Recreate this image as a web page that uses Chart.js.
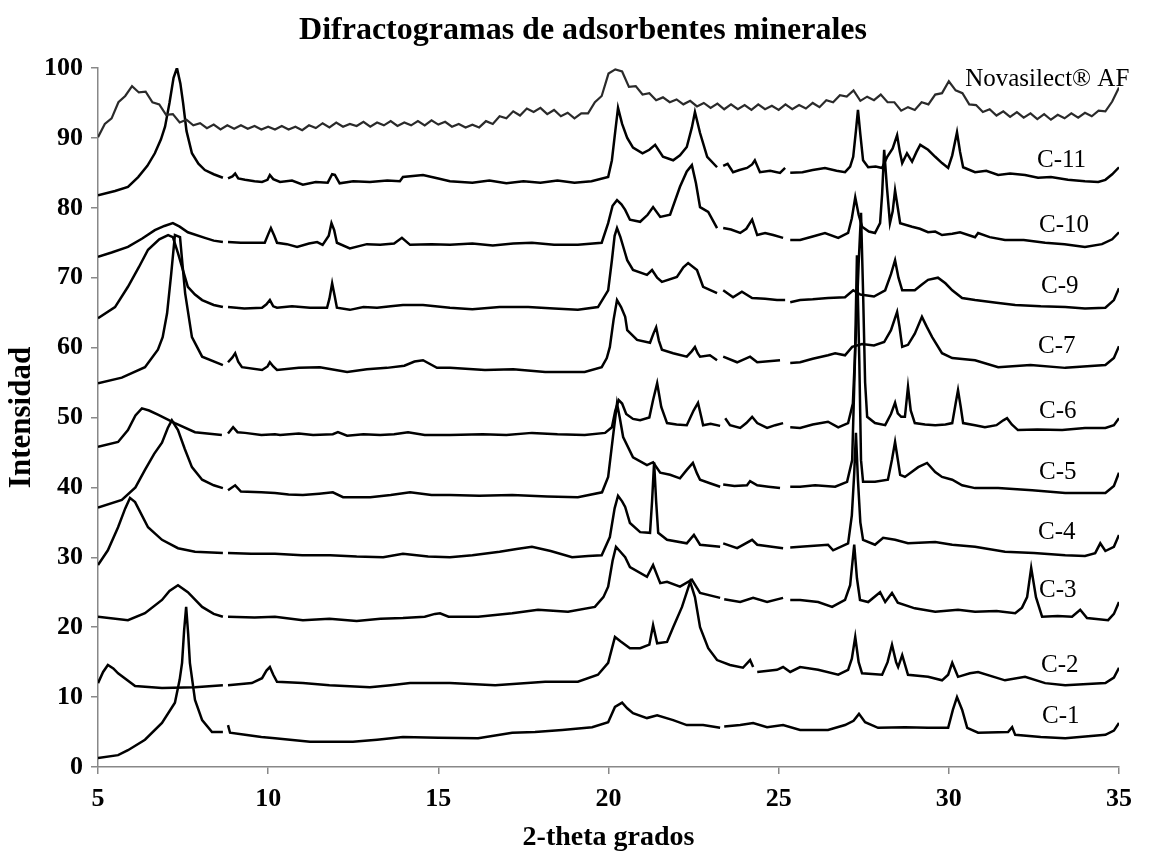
<!DOCTYPE html>
<html>
<head>
<meta charset="utf-8">
<script src="https://cdn.jsdelivr.net/npm/chart.js@4.4.0/dist/chart.umd.min.js"></script>
<style>
  html, body { margin: 0; padding: 0; background: #fff; }
  #wrap { width: 1164px; height: 852px; }
</style>
</head>
<body>
<div id="wrap"><canvas id="xrd" width="1164" height="852"></canvas></div>
<script>
// Novasilect AF: one reading every 0.2 degrees from 5 to 35
const novaStart = 5;
const novaStep = 0.2;
const novaY = [
  90.1, 92.0, 92.8, 95.1, 96.0, 97.4, 96.5, 96.6, 95.1, 94.8,
  93.3, 93.4, 92.2, 92.6, 91.8, 92.1, 91.4, 91.9, 91.2, 91.8,
  91.3, 91.8, 91.3, 91.7, 91.2, 91.6, 91.2, 91.7, 91.2, 91.6,
  91.1, 91.8, 91.4, 92.1, 91.5, 92.2, 91.6, 92.0, 91.7, 92.3,
  91.6, 92.2, 91.8, 92.4, 91.7, 92.2, 91.8, 92.4, 91.8, 92.5,
  91.9, 92.3, 91.6, 92.0, 91.5, 91.9, 91.5, 92.4, 92.0, 93.1,
  92.8, 93.8, 93.2, 94.2, 93.7, 94.3, 93.4, 94.0, 93.1, 93.6,
  92.8, 93.5, 93.5, 95.1, 96.0, 99.2, 99.8, 99.5, 97.3, 97.4,
  96.2, 96.4, 95.4, 95.8, 95.1, 95.5, 94.8, 95.3, 94.5, 95.0,
  94.3, 94.9, 94.1, 94.8, 94.1, 94.7, 94.0, 94.8, 94.1, 94.6,
  94.0, 94.8, 94.1, 94.7, 94.2, 95.0, 94.4, 95.4, 95.1, 96.1,
  95.9, 96.8, 95.3, 95.9, 95.4, 96.2, 95.1, 95.1, 93.9, 94.4,
  94.0, 95.1, 94.8, 96.2, 96.4, 98.1, 96.8, 96.4, 94.8, 94.7,
  93.7, 94.1, 93.2, 93.8, 93.0, 93.7, 92.9, 93.5, 92.7, 93.4,
  92.6, 93.3, 92.8, 93.5, 92.9, 93.6, 93.1, 93.9, 93.8, 95.2,
  97.2
];

// [2-theta, intensity]; null marks a break in the trace
const c11 = [[5.0,81.8],[5.5,82.4],[5.88,83.0],[6.18,84.4],[6.45,86.0],[6.67,87.8],[6.85,89.8],[6.97,91.6],[7.1,95.0],[7.22,98.6],[7.32,100],[7.42,97.8],[7.5,95.0],[7.6,91.0],[7.76,87.8],[7.95,86.3],[8.14,85.4],[8.4,84.8],[8.67,84.3],[8.75,null],[8.82,84.2],[8.95,84.5],[9.03,84.9],[9.12,84.2],[9.32,84.0],[9.6,83.8],[9.82,83.7],[9.98,84.0],[10.05,84.7],[10.15,84.1],[10.35,83.7],[10.7,83.9],[11.02,83.3],[11.4,83.7],[11.75,83.6],[11.88,84.8],[11.96,84.7],[12.1,83.5],[12.5,83.8],[12.99,83.7],[13.5,83.9],[13.87,83.8],[13.96,84.4],[14.55,84.7],[15.0,84.2],[15.34,83.8],[16.0,83.6],[16.5,83.9],[17.0,83.5],[17.5,83.8],[18.0,83.6],[18.5,83.9],[19.0,83.6],[19.5,83.8],[19.99,84.4],[20.1,86.8],[20.2,91.0],[20.28,94.3],[20.4,92.0],[20.55,90.0],[20.72,88.6],[21.0,87.8],[21.2,88.3],[21.37,89.0],[21.6,87.3],[21.9,86.8],[22.1,87.5],[22.3,88.7],[22.45,91.5],[22.54,93.7],[22.69,90.7],[22.9,87.3],[23.19,85.8],[23.28,null],[23.37,86.0],[23.5,86.3],[23.66,85.1],[23.85,85.4],[24.07,85.7],[24.22,86.2],[24.3,86.8],[24.45,85.1],[24.75,85.3],[25.04,85.0],[25.19,85.7],[25.27,null],[25.34,85.0],[25.7,85.1],[26.0,85.4],[26.36,85.7],[26.7,85.3],[26.95,85.1],[27.1,85.9],[27.19,87.3],[27.27,91.0],[27.33,94.0],[27.4,90.5],[27.48,86.8],[27.63,85.8],[27.85,85.9],[28.04,85.7],[28.19,87.3],[28.35,88.5],[28.48,90.4],[28.56,88.0],[28.63,86.4],[28.77,87.8],[28.92,86.6],[29.05,88.0],[29.16,89.0],[29.39,88.3],[29.6,87.3],[29.8,86.4],[29.98,85.7],[30.1,87.5],[30.24,90.8],[30.33,88.0],[30.42,85.8],[30.77,85.1],[31.1,85.3],[31.45,84.7],[31.8,84.9],[32.24,84.7],[32.62,84.3],[33.0,84.4],[33.5,84.0],[34.0,83.8],[34.39,83.7],[34.6,84.0],[34.8,84.8],[35.0,85.8]];

const c10 = [[5.0,73.0],[5.4,73.6],[5.88,74.4],[6.3,75.6],[6.67,76.8],[6.95,77.4],[7.2,77.8],[7.4,77.3],[7.64,76.5],[8.14,75.7],[8.4,75.3],[8.67,75.1],[8.75,null],[8.82,75.1],[9.2,75.0],[9.61,75.0],[9.9,75.0],[10.0,76.2],[10.08,77.1],[10.18,76.0],[10.26,75.0],[10.55,74.8],[10.85,74.4],[11.2,74.9],[11.44,75.1],[11.6,74.7],[11.78,76.0],[11.86,77.8],[11.94,76.8],[12.02,75.0],[12.4,74.2],[12.9,74.8],[13.29,74.7],[13.7,74.9],[13.93,75.7],[14.17,74.7],[14.8,74.8],[15.34,74.7],[16.0,74.9],[16.6,74.6],[17.2,74.9],[17.75,75.0],[18.4,74.7],[19.1,74.7],[19.8,75.0],[19.99,77.8],[20.12,80.3],[20.25,81.1],[20.38,80.5],[20.49,79.7],[20.63,78.3],[20.93,78.0],[21.15,79.0],[21.31,80.1],[21.52,78.7],[21.81,79.0],[22.1,83.0],[22.3,85.2],[22.45,86.1],[22.57,83.5],[22.69,80.1],[22.93,79.4],[23.19,77.1],[23.28,null],[23.37,77.1],[23.6,76.9],[23.87,76.4],[24.05,77.0],[24.22,78.3],[24.37,76.1],[24.6,76.4],[24.84,76.1],[25.13,75.7],[25.25,null],[25.34,75.4],[25.63,75.4],[26.0,75.9],[26.36,76.4],[26.75,75.7],[27.04,76.4],[27.15,78.5],[27.25,81.5],[27.35,79.0],[27.45,77.3],[27.65,76.6],[27.83,76.4],[27.98,77.8],[28.04,82.0],[28.1,88.3],[28.18,83.0],[28.27,77.8],[28.35,79.5],[28.42,82.5],[28.5,80.0],[28.57,77.8],[28.92,77.3],[29.15,77.0],[29.39,76.5],[29.6,76.6],[29.8,76.1],[30.1,76.3],[30.33,76.5],[30.77,75.8],[30.86,76.4],[31.2,75.8],[31.65,75.4],[32.2,75.4],[32.83,75.0],[33.4,74.8],[34.0,74.4],[34.5,74.8],[34.8,75.5],[35.0,76.5]];

const c9 = [[5.0,64.2],[5.5,65.8],[5.88,68.7],[6.2,71.5],[6.47,74.0],[6.8,75.5],[7.06,76.1],[7.2,75.8],[7.35,73.5],[7.5,71.0],[7.64,68.7],[7.85,67.6],[8.06,66.8],[8.4,66.1],[8.67,65.8],[8.75,null],[8.82,65.8],[9.3,65.6],[9.82,65.7],[9.95,66.2],[10.05,66.8],[10.15,65.9],[10.26,65.7],[10.7,65.9],[11.23,65.7],[11.73,65.7],[11.8,67.0],[11.88,69.2],[11.95,67.5],[12.02,65.7],[12.4,65.4],[12.8,65.8],[13.2,65.7],[13.6,65.9],[13.96,66.1],[14.55,66.1],[15.34,65.7],[16.0,65.5],[16.8,65.8],[17.64,65.8],[18.4,65.6],[19.1,65.4],[19.69,65.8],[19.99,68.2],[20.1,72.5],[20.18,76.0],[20.25,77.1],[20.35,75.8],[20.49,73.5],[20.55,72.5],[20.72,71.1],[21.13,70.4],[21.28,71.1],[21.43,70.0],[21.57,69.4],[22.01,70.1],[22.2,71.5],[22.34,72.1],[22.6,71.1],[22.78,68.7],[23.19,67.8],[23.28,null],[23.37,68.2],[23.66,67.2],[23.92,68.0],[24.22,67.1],[24.6,67.0],[24.95,66.8],[25.19,66.8],[25.27,null],[25.34,66.5],[25.63,66.8],[26.0,66.9],[26.45,67.1],[26.95,67.2],[27.19,68.2],[27.4,67.6],[27.8,67.3],[28.13,68.2],[28.3,70.5],[28.42,72.5],[28.52,70.0],[28.63,68.2],[29.0,68.2],[29.2,69.0],[29.39,69.7],[29.68,70.0],[29.9,69.2],[30.1,68.2],[30.39,67.1],[30.77,66.8],[31.4,66.4],[31.95,66.1],[32.7,65.9],[33.42,65.8],[34.0,65.6],[34.6,65.7],[34.85,66.8],[35.0,68.5]];

const c7 = [[5.0,54.9],[5.7,55.7],[6.38,57.2],[6.76,59.7],[6.9,61.5],[7.03,64.9],[7.15,70.5],[7.26,76.1],[7.41,75.8],[7.48,72.0],[7.56,67.8],[7.76,61.5],[8.06,58.7],[8.67,57.5],[8.75,null],[8.82,57.9],[8.95,58.6],[9.03,59.2],[9.12,58.0],[9.23,57.2],[9.82,56.8],[9.98,57.3],[10.05,57.9],[10.15,57.3],[10.26,56.8],[10.9,57.1],[11.52,57.2],[12.32,56.5],[12.9,56.9],[13.49,57.1],[14.0,57.4],[14.3,58.0],[14.55,58.2],[14.96,57.1],[15.34,57.1],[16.37,56.8],[17.2,56.9],[18.14,56.5],[19.3,56.5],[19.8,57.2],[19.95,58.5],[20.04,60.1],[20.15,64.0],[20.25,66.8],[20.37,65.8],[20.49,64.4],[20.55,62.5],[20.84,61.1],[21.22,60.7],[21.32,62.0],[21.4,62.9],[21.48,61.0],[21.57,59.7],[21.9,59.2],[22.3,58.7],[22.45,59.5],[22.54,60.1],[22.62,59.2],[22.69,58.7],[22.98,58.9],[23.19,58.2],[23.28,null],[23.37,58.7],[23.78,57.9],[24.16,58.7],[24.37,57.9],[25.04,58.2],[25.22,null],[25.34,57.8],[25.63,57.9],[26.0,58.4],[26.45,58.9],[26.66,59.2],[26.95,58.9],[27.16,60.1],[27.45,60.5],[27.8,60.3],[28.1,60.8],[28.3,62.5],[28.48,65.1],[28.55,63.0],[28.63,60.1],[28.8,60.4],[29.0,62.0],[29.21,64.4],[29.35,63.0],[29.51,61.5],[29.8,59.2],[30.1,58.5],[30.77,58.2],[31.45,57.2],[32.4,57.5],[33.42,57.1],[34.6,57.5],[34.85,58.5],[35.0,60.2]];

const c6 = [[5.0,45.8],[5.59,46.5],[5.88,48.2],[6.1,50.3],[6.29,51.3],[6.5,51.0],[6.76,50.4],[7.26,49.2],[7.85,47.9],[8.64,47.5],[8.75,null],[8.82,47.7],[8.97,48.6],[9.1,47.9],[9.32,47.8],[9.8,47.5],[10.2,47.6],[10.35,47.5],[10.9,47.7],[11.32,47.5],[11.9,47.6],[12.05,47.9],[12.32,47.4],[12.8,47.6],[13.29,47.5],[13.7,47.6],[14.11,47.9],[14.6,47.5],[15.34,47.5],[16.3,47.6],[17.0,47.5],[17.75,47.8],[18.5,47.6],[19.3,47.5],[19.9,47.8],[20.1,48.6],[20.2,51.0],[20.3,52.5],[20.4,52.0],[20.52,50.5],[20.72,49.8],[20.93,49.6],[21.2,50.0],[21.31,52.5],[21.43,54.9],[21.55,51.5],[21.72,49.2],[22.0,49.0],[22.3,48.9],[22.5,51.0],[22.63,52.1],[22.73,50.0],[22.78,48.9],[23.0,49.1],[23.28,48.8],[23.35,null],[23.43,49.9],[23.57,48.9],[23.87,48.5],[24.05,49.2],[24.22,50.1],[24.37,49.2],[24.66,48.5],[24.9,48.9],[25.13,49.2],[25.25,null],[25.34,48.6],[25.63,48.5],[26.0,49.0],[26.45,49.4],[26.75,48.6],[27.04,49.2],[27.18,52.0],[27.27,62.0],[27.35,72.0],[27.42,79.3],[27.48,68.0],[27.54,55.0],[27.6,50.1],[27.83,49.2],[28.13,48.9],[28.3,50.5],[28.42,52.1],[28.5,50.6],[28.6,50.1],[28.71,50.1],[28.8,54.4],[28.88,51.0],[29.0,49.2],[29.3,49.0],[29.6,48.9],[29.9,49.0],[30.1,49.2],[30.2,52.0],[30.27,53.9],[30.35,51.5],[30.42,49.2],[30.77,48.9],[31.06,48.6],[31.4,48.9],[31.6,49.6],[31.71,49.9],[31.85,49.0],[32.03,48.2],[32.6,48.3],[33.33,48.2],[34.0,48.5],[34.6,48.5],[34.85,48.9],[35.0,49.9]];

const c5 = [[5.0,37.1],[5.7,38.2],[6.1,40.0],[6.38,42.5],[6.65,44.8],[6.88,46.4],[7.05,48.5],[7.17,49.6],[7.35,48.2],[7.55,45.5],[7.76,42.9],[8.06,41.1],[8.4,40.3],[8.67,39.9],[8.75,null],[8.82,39.6],[9.03,40.3],[9.2,39.4],[9.8,39.3],[10.2,39.2],[10.6,39.0],[11.02,38.9],[11.5,39.1],[11.9,39.3],[12.2,38.6],[13.0,38.6],[13.6,38.9],[14.17,39.3],[14.8,38.9],[15.34,38.9],[16.2,38.8],[17.17,38.9],[18.2,38.7],[19.1,38.6],[19.81,39.3],[19.99,41.5],[20.13,47.2],[20.25,52.0],[20.33,50.0],[20.43,47.2],[20.72,44.3],[21.13,43.2],[21.31,43.6],[21.52,42.1],[21.81,41.8],[22.1,41.3],[22.3,42.5],[22.48,43.5],[22.6,42.0],[22.69,41.1],[22.98,40.6],[23.28,40.1],[23.33,null],[23.37,40.4],[23.7,40.2],[24.07,40.3],[24.16,40.9],[24.37,40.3],[24.7,40.1],[25.04,39.9],[25.2,null],[25.34,40.1],[25.63,40.1],[26.07,40.3],[26.66,40.1],[27.01,40.8],[27.16,43.9],[27.24,58.0],[27.3,73.2],[27.37,58.0],[27.42,43.9],[27.48,40.8],[27.83,40.8],[28.21,41.1],[28.33,44.0],[28.42,46.5],[28.5,44.0],[28.57,41.8],[28.71,41.5],[29.1,42.9],[29.36,43.5],[29.6,42.2],[29.8,41.5],[30.1,41.1],[30.39,40.3],[30.77,39.9],[31.45,39.9],[32.45,39.6],[33.42,39.2],[34.6,39.2],[34.85,40.2],[35.0,42.1]];

const c4 = [[5.0,28.9],[5.29,31.0],[5.59,34.3],[5.8,37.0],[5.94,38.5],[6.09,37.9],[6.47,34.3],[6.88,32.5],[7.35,31.3],[7.85,30.8],[8.67,30.6],[8.75,null],[8.82,30.6],[9.5,30.5],[10.2,30.5],[11.0,30.3],[11.82,30.3],[12.6,30.1],[13.38,30.0],[13.96,30.5],[14.7,30.1],[15.34,30.0],[16.0,30.3],[16.8,30.8],[17.3,31.2],[17.75,31.5],[18.3,30.9],[18.93,30.0],[19.4,30.2],[19.8,30.3],[20.04,32.9],[20.18,37.0],[20.28,38.8],[20.4,38.0],[20.49,37.2],[20.63,34.9],[20.93,33.6],[21.22,33.5],[21.28,38.0],[21.34,43.6],[21.4,38.0],[21.46,33.5],[21.72,32.5],[22.3,32.0],[22.51,33.2],[22.69,31.8],[23.28,31.5],[23.33,null],[23.37,32.0],[23.78,31.3],[24.22,32.5],[24.37,31.8],[24.8,31.5],[25.13,31.3],[25.25,null],[25.34,31.4],[25.63,31.5],[26.45,31.8],[26.6,31.0],[27.04,32.0],[27.15,36.0],[27.22,42.0],[27.27,47.8],[27.33,41.0],[27.4,35.0],[27.48,32.5],[27.83,31.8],[28.07,32.8],[28.42,32.5],[28.8,32.0],[29.6,32.2],[30.1,31.8],[30.77,31.5],[31.65,30.8],[32.5,30.6],[33.42,30.3],[34.0,30.2],[34.3,30.6],[34.45,32.0],[34.6,30.9],[34.85,31.5],[35.0,33.2]];

const c3 = [[5.0,21.5],[5.88,21.0],[6.38,22.0],[6.88,23.9],[7.1,25.2],[7.35,26.0],[7.64,25.0],[8.06,22.9],[8.4,21.9],[8.67,21.5],[8.75,null],[8.82,21.5],[9.6,21.4],[10.2,21.5],[11.02,21.0],[11.8,21.2],[12.6,20.9],[13.3,21.2],[13.96,21.3],[14.6,21.5],[14.9,21.9],[15.05,22.0],[15.3,21.5],[16.17,21.5],[17.17,22.0],[17.93,22.5],[18.81,22.2],[19.6,22.9],[19.85,24.3],[19.99,25.8],[20.12,29.5],[20.22,31.5],[20.35,30.8],[20.49,30.0],[20.63,28.6],[21.13,27.2],[21.31,28.9],[21.52,26.3],[21.72,26.5],[22.1,25.8],[22.45,26.8],[22.69,24.9],[23.28,24.2],[23.33,null],[23.4,24.0],[23.87,23.6],[24.25,24.2],[24.66,23.6],[25.13,24.2],[25.25,null],[25.34,23.9],[25.63,23.9],[26.16,23.6],[26.57,22.9],[26.95,23.9],[27.1,26.0],[27.22,31.8],[27.3,27.0],[27.39,23.9],[27.63,23.6],[27.98,25.0],[28.13,23.6],[28.33,24.9],[28.5,23.5],[29.0,22.7],[29.6,22.2],[30.27,22.5],[30.77,22.2],[31.4,22.3],[31.95,22.0],[32.15,22.8],[32.3,24.3],[32.42,28.5],[32.56,24.3],[32.74,21.5],[33.2,21.6],[33.62,21.5],[33.86,22.5],[34.06,21.3],[34.68,21.0],[34.85,21.9],[35.0,23.6]];

const c2 = [[5.0,12.0],[5.15,13.6],[5.29,14.6],[5.45,14.1],[5.59,13.4],[6.09,11.6],[6.88,11.3],[7.85,11.4],[8.67,11.7],[8.75,null],[8.82,11.7],[9.52,12.0],[9.82,12.7],[9.95,13.8],[10.05,14.3],[10.15,13.2],[10.26,12.2],[11.02,12.0],[11.8,11.7],[12.99,11.4],[13.6,11.7],[14.17,12.0],[15.34,12.0],[16.67,11.7],[18.14,12.2],[19.1,12.2],[19.69,13.2],[19.99,14.9],[20.19,18.6],[20.35,18.0],[20.49,17.5],[20.63,17.0],[20.93,17.0],[21.2,17.5],[21.31,20.3],[21.43,17.7],[21.72,17.9],[21.9,20.0],[22.16,22.9],[22.4,26.5],[22.54,24.3],[22.69,20.0],[22.93,17.0],[23.19,15.3],[23.57,14.6],[23.95,14.2],[24.16,15.3],[24.25,14.3],[24.31,null],[24.37,13.6],[24.95,13.9],[25.13,14.3],[25.34,13.6],[25.63,14.3],[26.16,13.9],[26.75,13.2],[27.04,13.9],[27.15,15.5],[27.25,18.6],[27.35,15.0],[27.45,13.4],[28.04,13.2],[28.2,15.0],[28.33,17.5],[28.45,15.0],[28.51,14.3],[28.63,16.0],[28.8,13.2],[29.39,12.9],[29.8,12.4],[29.98,13.2],[30.1,14.9],[30.27,12.9],[30.62,13.4],[30.86,13.6],[31.65,12.4],[32.24,12.9],[32.83,12.0],[33.42,11.7],[34.6,12.0],[34.85,12.8],[35.0,14.2]];

const c1 = [[5.0,1.3],[5.59,1.7],[5.88,2.4],[6.38,3.9],[6.88,6.3],[7.26,9.2],[7.4,12.5],[7.47,14.9],[7.53,19.5],[7.59,22.9],[7.65,19.0],[7.7,14.9],[7.85,9.6],[8.06,6.7],[8.35,5.0],[8.67,5.0],[8.75,null],[8.82,6.0],[8.88,4.9],[9.32,4.6],[9.8,4.3],[10.2,4.1],[11.23,3.6],[12.49,3.6],[13.2,3.9],[13.96,4.3],[15.0,4.2],[16.17,4.1],[17.17,4.9],[17.84,5.0],[18.64,5.3],[19.52,5.7],[19.99,6.4],[20.19,8.6],[20.4,9.2],[20.55,8.4],[20.72,7.7],[21.13,7.0],[21.43,7.4],[21.9,6.7],[22.3,6.0],[22.78,6.0],[23.28,5.6],[23.33,null],[23.4,5.8],[23.87,6.0],[24.25,6.3],[24.66,5.7],[25.13,6.0],[25.63,5.3],[26.45,5.3],[26.95,6.0],[27.2,6.6],[27.36,7.6],[27.54,6.4],[27.92,5.6],[28.71,5.7],[29.39,5.6],[29.98,5.6],[30.12,8.2],[30.24,10.0],[30.39,8.2],[30.54,5.6],[30.86,4.9],[31.74,5.0],[31.86,5.7],[31.95,4.6],[32.7,4.3],[33.42,4.1],[34.6,4.6],[34.85,5.2],[35.0,6.3]];

// series names and where their labels sit (left edge x, middle y)
const seriesNames = ['Novasilect® AF', 'C-11', 'C-10', 'C-9', 'C-7', 'C-6', 'C-5', 'C-4', 'C-3', 'C-2', 'C-1'];
const labelX = [30.48, 32.59, 32.65, 32.71, 32.62, 32.65, 32.65, 32.62, 32.65, 32.71, 32.74];
const labelY = [98.3, 86.8, 77.5, 68.7, 60.2, 50.8, 42.1, 33.5, 25.2, 14.6, 7.2];

const xTicks = [5, 10, 15, 20, 25, 30, 35];
const yTicks = [0, 10, 20, 30, 40, 50, 60, 70, 80, 90, 100];

const serif = '"Liberation Serif", "Times New Roman", serif';

function toPoints(pairs) {
    return pairs.map(p => ({ x: p[0], y: p[1] }));
}

const novaPoints = novaY.map((v, i) => ({ x: +(novaStart + i * novaStep).toFixed(2), y: v }));
const traces = [novaPoints].concat([c11, c10, c9, c7, c6, c5, c4, c3, c2, c1].map(toPoints));

const datasets = traces.map((pts, i) => ({
    label: seriesNames[i],
    data: pts,
    borderColor: i === 0 ? '#2a2a2a' : '#000',
    borderWidth: i === 0 ? 2.2 : 2.5,
    pointRadius: 0,
    tension: 0,
    spanGaps: false,
    fill: false
}));

const textPlugin = {
    id: 'texts',
    afterDraw(chart) {
        const ctx = chart.ctx;
        const xs = chart.scales.x;
        const ys = chart.scales.y;
        ctx.save();
        ctx.fillStyle = '#000';
        ctx.font = 'bold 32px ' + serif;
        ctx.textAlign = 'center';
        ctx.textBaseline = 'middle';
        ctx.fillText('Difractogramas de adsorbentes minerales', 583, 31);

        ctx.font = '25px ' + serif;
        ctx.textAlign = 'left';
        seriesNames.forEach((name, i) => {
            ctx.fillText(name, xs.getPixelForValue(labelX[i]), ys.getPixelForValue(labelY[i]));
        });
        ctx.restore();
    }
};

new Chart(document.getElementById('xrd'), {
    type: 'line',
    data: { datasets: datasets },
    plugins: [textPlugin],
    options: {
        responsive: false,
        animation: false,
        devicePixelRatio: 1,
        layout: { padding: { top: 68, right: 45, left: 0, bottom: 0 } },
        plugins: {
            legend: { display: false },
            tooltip: { enabled: false }
        },
        scales: {
            x: {
                type: 'linear',
                min: 5,
                max: 35,
                afterBuildTicks: s => { s.ticks = xTicks.map(v => ({ value: v })); },
                afterFit: s => { s.height = 85; },
                ticks: {
                    color: '#000',
                    padding: 10,
                    maxRotation: 0,
                    font: { family: serif, size: 26, weight: 'bold' }
                },
                grid: { drawOnChartArea: false, drawTicks: true, tickLength: 7, color: '#888', lineWidth: 1.5 },
                border: { display: true, color: '#888', width: 1.5 },
                title: {
                    display: true,
                    text: '2-theta grados',
                    color: '#000',
                    padding: { top: 0, bottom: 0 },
                    font: { family: serif, size: 28, weight: 'bold', lineHeight: 1.0 }
                }
            },
            y: {
                min: 0,
                max: 100,
                afterBuildTicks: s => { s.ticks = yTicks.map(v => ({ value: v })); },
                afterFit: s => { s.width = 98; },
                ticks: {
                    color: '#000',
                    padding: 8,
                    font: { family: serif, size: 26, weight: 'bold' }
                },
                grid: { drawOnChartArea: false, drawTicks: true, tickLength: 7, color: '#888', lineWidth: 1.5 },
                border: { display: true, color: '#888', width: 1.5 },
                title: {
                    display: true,
                    text: 'Intensidad',
                    color: '#000',
                    padding: { top: 6, bottom: 0 },
                    font: { family: serif, size: 31, weight: 'bold', lineHeight: 1.0 }
                }
            }
        }
    }
});
</script>
</body>
</html>
